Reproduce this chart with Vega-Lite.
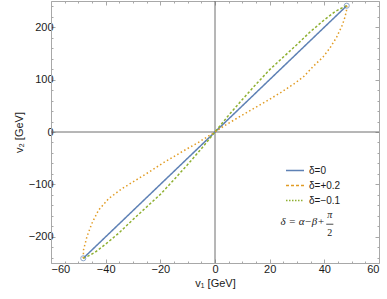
{
  "$schema": "https://vega.github.io/schema/vega-lite/v6.json",
  "width": 328,
  "height": 262,
  "autosize": {"type": "none"},
  "padding": {"left": 51, "top": 1, "right": 8, "bottom": 36},
  "background": "white",
  "config": {
    "view": {"stroke": null},
    "axis": {
      "grid": false,
      "domainColor": "#a8a8a8",
      "tickColor": "#a8a8a8",
      "domainWidth": 1,
      "tickWidth": 1,
      "labelFont": "Liberation Sans",
      "labelFontSize": 11,
      "labelColor": "#1a1a1a",
      "titleFont": "Liberation Sans",
      "titleFontSize": 11,
      "titleFontWeight": "normal",
      "titleColor": "#1a1a1a"
    }
  },
  "datasets": {
    "curves": [
      {"s": "δ=0", "o": 0, "x": -48.2, "y": -241},
      {"s": "δ=0", "o": 1, "x": 48.2, "y": 241},
      {"s": "δ=−0.1", "o": 0, "x": -48.2, "y": -241},
      {"s": "δ=−0.1", "o": 1, "x": -46.5, "y": -237},
      {"s": "δ=−0.1", "o": 2, "x": -44, "y": -230},
      {"s": "δ=−0.1", "o": 3, "x": -40, "y": -214},
      {"s": "δ=−0.1", "o": 4, "x": -35, "y": -192},
      {"s": "δ=−0.1", "o": 5, "x": -30, "y": -167},
      {"s": "δ=−0.1", "o": 6, "x": -25, "y": -143},
      {"s": "δ=−0.1", "o": 7, "x": -20, "y": -119},
      {"s": "δ=−0.1", "o": 8, "x": -15, "y": -91},
      {"s": "δ=−0.1", "o": 9, "x": -10, "y": -62},
      {"s": "δ=−0.1", "o": 10, "x": -5, "y": -32},
      {"s": "δ=−0.1", "o": 11, "x": 0, "y": 0},
      {"s": "δ=−0.1", "o": 12, "x": 5, "y": 32},
      {"s": "δ=−0.1", "o": 13, "x": 10, "y": 62},
      {"s": "δ=−0.1", "o": 14, "x": 15, "y": 91},
      {"s": "δ=−0.1", "o": 15, "x": 20, "y": 119},
      {"s": "δ=−0.1", "o": 16, "x": 25, "y": 143},
      {"s": "δ=−0.1", "o": 17, "x": 30, "y": 167},
      {"s": "δ=−0.1", "o": 18, "x": 35, "y": 192},
      {"s": "δ=−0.1", "o": 19, "x": 40, "y": 214},
      {"s": "δ=−0.1", "o": 20, "x": 44, "y": 230},
      {"s": "δ=−0.1", "o": 21, "x": 46.5, "y": 237},
      {"s": "δ=−0.1", "o": 22, "x": 48.2, "y": 241},
      {"s": "δ=+0.2", "o": 0, "x": -48.2, "y": -241},
      {"s": "δ=+0.2", "o": 1, "x": -48.1, "y": -225},
      {"s": "δ=+0.2", "o": 2, "x": -46.8, "y": -199},
      {"s": "δ=+0.2", "o": 3, "x": -45, "y": -174},
      {"s": "δ=+0.2", "o": 4, "x": -42.6, "y": -149},
      {"s": "δ=+0.2", "o": 5, "x": -38.9, "y": -127},
      {"s": "δ=+0.2", "o": 6, "x": -34, "y": -108},
      {"s": "δ=+0.2", "o": 7, "x": -29, "y": -92},
      {"s": "δ=+0.2", "o": 8, "x": -24, "y": -76},
      {"s": "δ=+0.2", "o": 9, "x": -19, "y": -59},
      {"s": "δ=+0.2", "o": 10, "x": -12.5, "y": -39},
      {"s": "δ=+0.2", "o": 11, "x": -5.5, "y": -18},
      {"s": "δ=+0.2", "o": 12, "x": 0, "y": 0},
      {"s": "δ=+0.2", "o": 13, "x": 3.6, "y": 12.5},
      {"s": "δ=+0.2", "o": 14, "x": 10.9, "y": 35},
      {"s": "δ=+0.2", "o": 15, "x": 18.2, "y": 57},
      {"s": "δ=+0.2", "o": 16, "x": 24.3, "y": 76},
      {"s": "δ=+0.2", "o": 17, "x": 29.2, "y": 93},
      {"s": "δ=+0.2", "o": 18, "x": 32.5, "y": 106},
      {"s": "δ=+0.2", "o": 19, "x": 35.9, "y": 125},
      {"s": "δ=+0.2", "o": 20, "x": 39.5, "y": 143},
      {"s": "δ=+0.2", "o": 21, "x": 42, "y": 160},
      {"s": "δ=+0.2", "o": 22, "x": 44.4, "y": 180},
      {"s": "δ=+0.2", "o": 23, "x": 46.5, "y": 203},
      {"s": "δ=+0.2", "o": 24, "x": 47.6, "y": 220},
      {"s": "δ=+0.2", "o": 25, "x": 48.1, "y": 232},
      {"s": "δ=+0.2", "o": 26, "x": 48.2, "y": 241}
    ],
    "ends": [
      {"x": -48.2, "y": -241},
      {"x": 48.2, "y": 241}
    ]
  },
  "layer": [
    {
      "data": {"values": [{}]},
      "mark": {"type": "rule", "color": "#6e6e6e", "strokeWidth": 1},
      "encoding": {
        "x": {"datum": 0, "type": "quantitative", "scale": {"domain": [-60, 60], "nice": false, "zero": false}, "axis": null}
      }
    },
    {
      "data": {"values": [{}]},
      "mark": {"type": "rule", "color": "#6e6e6e", "strokeWidth": 1},
      "encoding": {
        "y": {"datum": 0, "type": "quantitative", "scale": {"domain": [-250, 250], "nice": false, "zero": false}, "axis": null}
      }
    },
    {
      "data": {"name": "curves"},
      "mark": {"type": "line", "strokeWidth": 1.5, "clip": true},
      "encoding": {
        "x": {
          "field": "x", "type": "quantitative",
          "scale": {"domain": [-60, 60], "nice": false, "zero": false},
          "axis": {
            "orient": "bottom",
            "values": [-60,-55,-50,-45,-40,-35,-30,-25,-20,-15,-10,-5,0,5,10,15,20,25,30,35,40,45,50,55,60],
            "labelExpr": "datum.value % 20 === 0 ? datum.label : ''",
            "tickSize": {"condition": {"test": "datum.value % 20 === 0", "value": -4}, "value": -2},
            "labelPadding": 4,
            "title": "v₁ [GeV]",
            "titlePadding": 3
          }
        },
        "y": {
          "field": "y", "type": "quantitative",
          "scale": {"domain": [-250, 250], "nice": false, "zero": false},
          "axis": {
            "orient": "left",
            "values": [-240,-220,-200,-180,-160,-140,-120,-100,-80,-60,-40,-20,0,20,40,60,80,100,120,140,160,180,200,220,240],
            "labelExpr": "datum.value % 100 === 0 ? datum.label : ''",
            "tickSize": {"condition": {"test": "datum.value % 100 === 0", "value": -4}, "value": -2},
            "labelPadding": 2,
            "title": "v₂ [GeV]",
            "titlePadding": 4
          }
        },
        "order": {"field": "o", "type": "quantitative"},
        "color": {
          "field": "s", "type": "nominal",
          "scale": {"domain": ["δ=0", "δ=+0.2", "δ=−0.1"], "range": ["#5e81b5", "#e19c24", "#8fb032"]},
          "legend": {
            "title": null,
            "orient": "none",
            "legendX": 234,
            "legendY": 162,
            "padding": 0,
            "symbolType": "stroke",
            "symbolSize": 324,
            "symbolStrokeWidth": 1.5,
            "clipHeight": 15,
            "rowPadding": 0,
            "labelFont": "Liberation Sans",
            "labelFontSize": 10,
            "labelColor": "#1a1a1a",
            "labelOffset": 4,
            "encode": {
              "symbols": {
                "update": {
                  "strokeDash": {"signal": "datum.value === 'δ=+0.2' ? [3, 2] : datum.value === 'δ=−0.1' ? [1.5, 1.5] : [1, 0]"}
                }
              }
            }
          }
        },
        "strokeDash": {
          "condition": [
            {"test": "datum.s === 'δ=+0.2'", "value": [1.5, 2.5]},
            {"test": "datum.s === 'δ=−0.1'", "value": [2.5, 2]}
          ],
          "value": [1, 0]
        }
      }
    },
    {
      "data": {"name": "ends"},
      "mark": {"type": "point", "shape": "circle", "filled": false, "color": "#5e81b5", "size": 26, "strokeWidth": 1},
      "encoding": {
        "x": {
          "field": "x", "type": "quantitative",
          "scale": {"domain": [-60, 60], "nice": false, "zero": false},
          "axis": {
            "orient": "top",
            "values": [-60,-55,-50,-45,-40,-35,-30,-25,-20,-15,-10,-5,0,5,10,15,20,25,30,35,40,45,50,55,60],
            "labels": false,
            "tickSize": {"condition": {"test": "datum.value % 20 === 0", "value": -4}, "value": -2},
            "title": null
          }
        },
        "y": {
          "field": "y", "type": "quantitative",
          "scale": {"domain": [-250, 250], "nice": false, "zero": false},
          "axis": {
            "orient": "right",
            "values": [-240,-220,-200,-180,-160,-140,-120,-100,-80,-60,-40,-20,0,20,40,60,80,100,120,140,160,180,200,220,240],
            "labels": false,
            "tickSize": {"condition": {"test": "datum.value % 100 === 0", "value": -4}, "value": -2},
            "title": null
          }
        }
      }
    },
    {
      "data": {"values": [{"t": "δ = α−β+"}]},
      "mark": {"type": "text", "align": "left", "baseline": "middle", "font": "Liberation Serif", "fontStyle": "italic", "fontSize": 11, "color": "#1a1a1a"},
      "encoding": {
        "x": {"datum": 24, "type": "quantitative", "axis": null},
        "y": {"datum": -172, "type": "quantitative", "axis": null},
        "text": {"field": "t"}
      }
    },
    {
      "data": {"values": [{"t": "π"}]},
      "mark": {"type": "text", "align": "center", "baseline": "middle", "font": "Liberation Serif", "fontStyle": "italic", "fontSize": 10, "color": "#1a1a1a"},
      "encoding": {
        "x": {"datum": 42, "type": "quantitative", "axis": null},
        "y": {"datum": -159, "type": "quantitative", "axis": null},
        "text": {"field": "t"}
      }
    },
    {
      "data": {"values": [{"t": "2"}]},
      "mark": {"type": "text", "align": "center", "baseline": "middle", "font": "Liberation Serif", "fontSize": 10, "color": "#1a1a1a"},
      "encoding": {
        "x": {"datum": 42, "type": "quantitative", "axis": null},
        "y": {"datum": -193, "type": "quantitative", "axis": null},
        "text": {"field": "t"}
      }
    },
    {
      "data": {"values": [{}]},
      "mark": {"type": "rule", "color": "#1a1a1a", "strokeWidth": 0.8},
      "encoding": {
        "x": {"datum": 40.7, "type": "quantitative", "axis": null},
        "x2": {"datum": 43.3},
        "y": {"datum": -176, "type": "quantitative", "axis": null}
      }
    }
  ],
  "resolve": {"axis": {"x": "independent", "y": "independent"}}
}
